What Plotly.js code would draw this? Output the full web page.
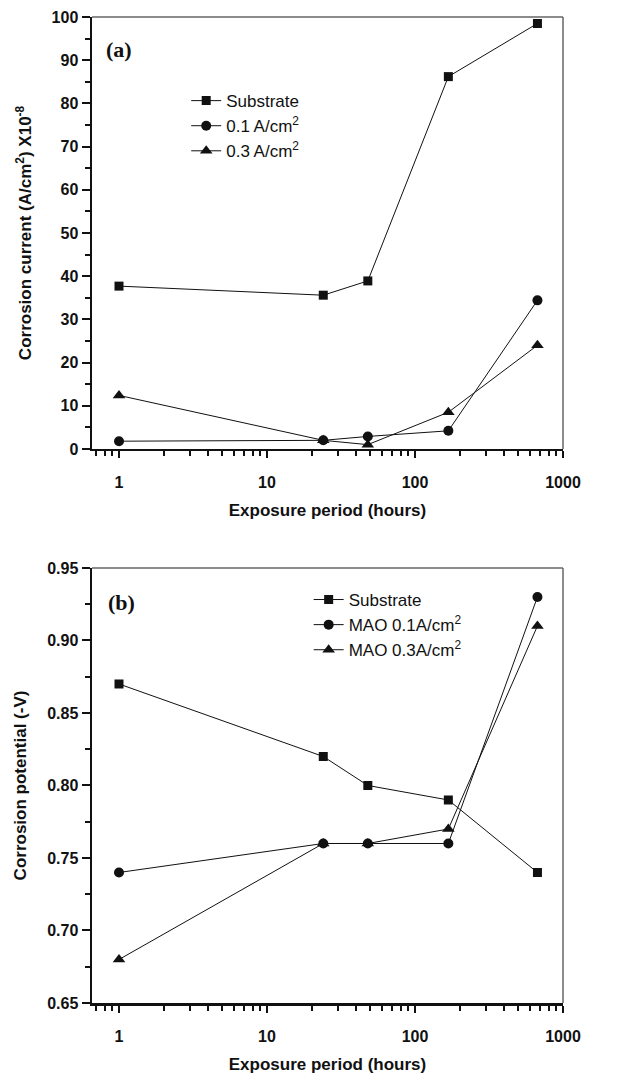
<!DOCTYPE html>
<html>
<head>
<meta charset="utf-8">
<script src="https://cdn.plot.ly/plotly-3.0.1.min.js"></script>
<style>html,body{margin:0;padding:0;background:#fff;}#chart{width:625px;height:1076px;}</style>
</head>
<body>
<div id="chart"></div>
<script>
// Exposure periods (hours)
const hours = [1, 24, 48, 168, 672];
// (a) Corrosion current (A/cm2) x10^-8
const icorrSubstrate = [37.7, 35.6, 38.9, 86.2, 98.5];
const icorr01 = [1.8, 2.0, 2.9, 4.2, 34.4];
const icorr03 = [12.4, 2.0, 1.0, 8.5, 24.0];
// (b) Corrosion potential (-V)
const potSubstrate = [0.87, 0.82, 0.80, 0.79, 0.74];
const pot01 = [0.74, 0.76, 0.76, 0.76, 0.93];
const pot03 = [0.68, 0.76, 0.76, 0.77, 0.91];

// tick labels
const xTickVals = [1, 10, 100, 1000];
const xTickText = ['1', '10', '100', '1000'];
const xMinorVals = [0.7, 0.8, 0.9, 2, 3, 4, 5, 6, 7, 8, 9, 20, 30, 40, 50, 60, 70, 80, 90, 200, 300, 400, 500, 600, 700, 800, 900];
const yATickVals = [0, 10, 20, 30, 40, 50, 60, 70, 80, 90, 100];
const yATickText = ['0', '10', '20', '30', '40', '50', '60', '70', '80', '90', '100'];
const yBTickVals = [0.65, 0.70, 0.75, 0.80, 0.85, 0.90, 0.95];
const yBTickText = ['0.65', '0.70', '0.75', '0.80', '0.85', '0.90', '0.95'];

const namesA = ['Substrate', '0.1 A/cm<sup>2</sup>', '0.3 A/cm<sup>2</sup>'];
const namesB = ['Substrate', 'MAO 0.1A/cm<sup>2</sup>', 'MAO 0.3A/cm<sup>2</sup>'];
const symbols = ['square', 'circle', 'triangle-up'];
const sizes = [9, 10, 11];

function tr(y, name, i, xa, ya, leg) {
  return {
    x: hours, y: y, name: name, type: 'scatter', mode: 'lines+markers',
    xaxis: xa, yaxis: ya, legend: leg,
    line: {color: '#111', width: 1},
    marker: {symbol: symbols[i], size: sizes[i], color: '#111'}
  };
}

const data = [
  tr(icorrSubstrate, namesA[0], 0, 'x', 'y', 'legend'),
  tr(icorr01, namesA[1], 1, 'x', 'y', 'legend'),
  tr(icorr03, namesA[2], 2, 'x', 'y', 'legend'),
  tr(potSubstrate, namesB[0], 0, 'x2', 'y2', 'legend2'),
  tr(pot01, namesB[1], 1, 'x2', 'y2', 'legend2'),
  tr(pot03, namesB[2], 2, 'x2', 'y2', 'legend2')
];

const bold = s => '<b>' + s + '</b>';
const tickFont = {family: 'Liberation Sans, Arial, sans-serif', size: 16, color: '#111', weight: 700};
const titleFont = {family: 'Liberation Sans, Arial, sans-serif', size: 17, color: '#111', weight: 700};
const legFont = {family: 'Liberation Sans, Arial, sans-serif', size: 17, color: '#111'};

function xaxis(anchor) {
  return {
    type: 'log', range: [Math.log10(0.657), 3], anchor: anchor, domain: [0, 1],
    tickmode: 'array', tickvals: xTickVals, ticktext: xTickText.map(bold),
    ticks: 'outside', ticklen: 7, tickwidth: 2, tickcolor: '#111', ticklabelstandoff: 10,
    minor: {tickmode: 'array', tickvals: xMinorVals, ticks: 'outside', ticklen: 5, tickwidth: 2, tickcolor: '#111', showgrid: false},
    showline: true, linecolor: '#111', linewidth: 2.5,
    showgrid: false, zeroline: false, tickfont: tickFont,
    title: {text: bold('Exposure period (hours)'), font: titleFont, standoff: 15}
  };
}

const layout = {
  width: 625, height: 1076,
  margin: {l: 92, r: 62, t: 17, b: 73},
  paper_bgcolor: '#fff', plot_bgcolor: '#fff',
  showlegend: true,
  xaxis: xaxis('y'),
  xaxis2: xaxis('y2'),
  yaxis: {
    domain: [0.5619, 1], range: [0, 100], anchor: 'x',
    tickmode: 'array', tickvals: yATickVals, ticktext: yATickText.map(bold),
    ticks: 'outside', ticklen: 8, tickwidth: 2, tickcolor: '#111',
    minor: {dtick: 5, ticks: 'outside', ticklen: 5, tickwidth: 2, tickcolor: '#111', showgrid: false},
    showline: true, linecolor: '#111', linewidth: 2.5,
    showgrid: false, zeroline: false, tickfont: tickFont,
    title: {text: bold('Corrosion current (A/cm<sup>2</sup>) X10<sup>-8</sup>'), font: titleFont, standoff: 16}
  },
  yaxis2: {
    domain: [0, 0.4412], range: [0.65, 0.95], anchor: 'x2',
    tickmode: 'array', tickvals: yBTickVals, ticktext: yBTickText.map(bold),
    ticks: 'outside', ticklen: 8, tickwidth: 2, tickcolor: '#111',
    minor: {dtick: 0.025, ticks: 'outside', ticklen: 5, tickwidth: 2, tickcolor: '#111', showgrid: false},
    showline: true, linecolor: '#111', linewidth: 2.5,
    showgrid: false, zeroline: false, tickfont: tickFont,
    title: {text: bold('Corrosion potential (-V)'), font: titleFont, standoff: 16}
  },
  legend: {
    x: 0.2, y: 0.933, xref: 'paper', yref: 'paper', xanchor: 'left', yanchor: 'top',
    bgcolor: 'rgba(0,0,0,0)', font: legFont, tracegroupgap: 0
  },
  legend2: {
    x: 0.46, y: 0.427, xref: 'paper', yref: 'paper', xanchor: 'left', yanchor: 'top',
    bgcolor: 'rgba(0,0,0,0)', font: legFont, tracegroupgap: 0
  },
  shapes: [
    {type: 'line', xref: 'x domain', yref: 'y domain', x0: 0, x1: 1, y0: 1, y1: 1, line: {color: '#666', width: 1.5}},
    {type: 'line', xref: 'x domain', yref: 'y domain', x0: 1, x1: 1, y0: 0, y1: 1, line: {color: '#666', width: 1.5}},
    {type: 'line', xref: 'x2 domain', yref: 'y2 domain', x0: 0, x1: 1, y0: 1, y1: 1, line: {color: '#666', width: 1.5}},
    {type: 'line', xref: 'x2 domain', yref: 'y2 domain', x0: 1, x1: 1, y0: 0, y1: 1, line: {color: '#666', width: 1.5}}
  ],
  annotations: [
    {text: bold('(a)'), xref: 'x domain', yref: 'y domain', x: 0.025, y: 0.925, xanchor: 'left', yanchor: 'middle', showarrow: false,
     font: {family: 'Liberation Serif, Times New Roman, serif', size: 22, color: '#111'}},
    {text: bold('(b)'), xref: 'x2 domain', yref: 'y2 domain', x: 0.03, y: 0.92, xanchor: 'left', yanchor: 'middle', showarrow: false,
     font: {family: 'Liberation Serif, Times New Roman, serif', size: 22, color: '#111'}}
  ]
};

Plotly.newPlot('chart', data, layout, {displayModeBar: false, staticPlot: true});
</script>
</body>
</html>
